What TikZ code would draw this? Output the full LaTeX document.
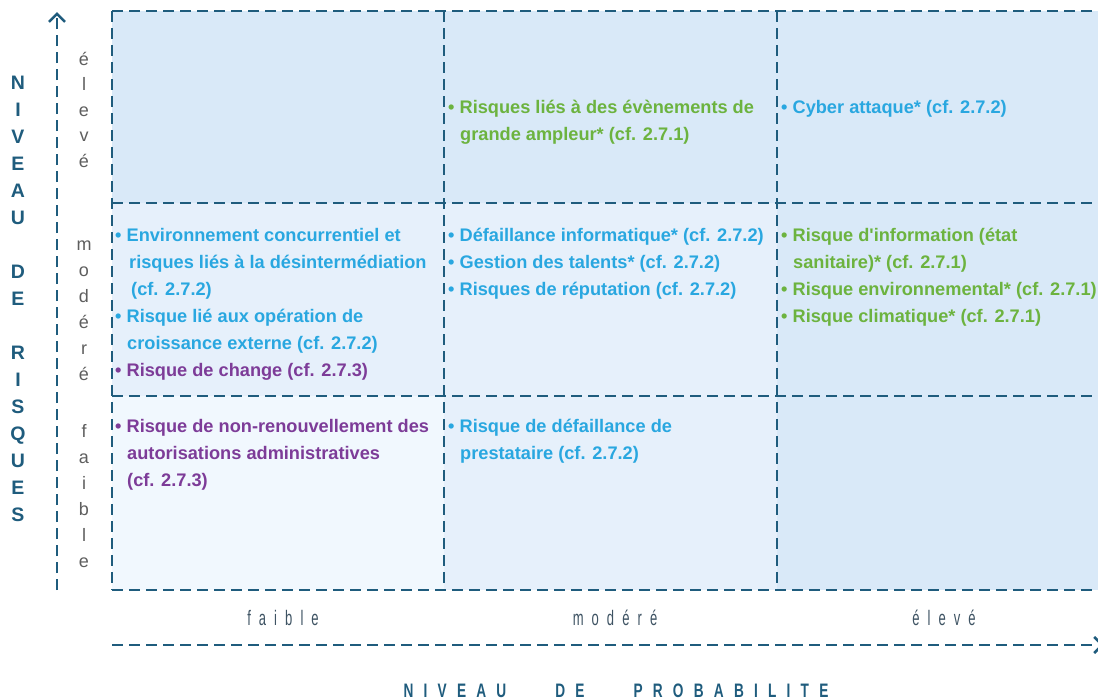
\documentclass[tikz,border=0pt]{standalone}
\usepackage{fontspec}
\setmainfont{Liberation Sans}
\usepackage{graphicx}
\usetikzlibrary{arrows.meta}

\definecolor{linecol}{HTML}{1F5C7D}
\definecolor{cellhigh}{HTML}{D9E9F8}
\definecolor{cellmid}{HTML}{E6F0FB}
\definecolor{celllow}{HTML}{F1F8FE}
\definecolor{riskblue}{HTML}{29A7E0}
\definecolor{riskgreen}{HTML}{6CB33F}
\definecolor{riskpurple}{HTML}{7D3C98}
\definecolor{levelgray}{HTML}{5E5E5E}
\definecolor{labelgray}{HTML}{3E5363}

% continuation line inside a bullet item
\newcommand{\subline}{\hspace*{12pt}}
\newcommand{\widelabel}[1]{\scalebox{0.62}[1]{\addfontfeature{LetterSpace=62}#1}}

\tikzset{
  griddash/.style={draw=linecol, line width=2.6pt, dash pattern=on 11pt off 6pt},
  cell/.style={anchor=north west, align=left, inner sep=0pt,
    font=\fontsize{18.2}{27}\selectfont\bfseries},
  riskletter/.style={anchor=base, inner sep=0pt, text=linecol,
    font=\fontsize{19.5}{19.5}\selectfont\bfseries},
  levelletter/.style={anchor=base, inner sep=0pt, text=levelgray,
    font=\fontsize{18}{18}\selectfont},
  problabel/.style={anchor=base, inner sep=0pt, text=labelgray,
    font=\fontsize{21}{21}\selectfont},
  probtitle/.style={anchor=base, inner sep=0pt, text=linecol,
    font=\fontsize{19.5}{19.5}\selectfont\bfseries},
}

\begin{document}
\begin{tikzpicture}[x=1pt, y=-1pt, >=Latex]
  \clip (0,0) rectangle (1098,699);

  % cells
  \fill[cellhigh] (112,11) rectangle (1110,203);
  \fill[cellmid] (112,203) rectangle (777,396);
  \fill[cellhigh] (777,203) rectangle (1110,590);
  \fill[celllow] (112,396) rectangle (444,590);
  \fill[cellmid] (444,396) rectangle (777,590);
  \foreach \x in {112,444,777} {
    \draw[griddash] (\x,11) -- (\x,590);
  }
  \foreach \y in {11,203,396,590} {
    \draw[griddash] (112,\y) -- (1110,\y);
  }

  % axes
  \draw[griddash, -{Straight Barb[length=8pt,width=16pt]}] (57,590) -- (57,12);
  \draw[griddash, -{Straight Barb[length=8pt,width=16pt]}] (112,645) -- (1104,645);

  % risk levels
  \foreach \ch/\k in {N/0,I/1,V/2,E/3,A/4,U/5,D/7,E/8,R/10,I/11,S/12,Q/13,U/14,E/15,S/16} {
    \node[riskletter] (axis\k) at (18,89+27*\k) {\ch};
  }
  \foreach \ch [count=\k from 0] in {é,l,e,v,é} {
    \node[levelletter] (high\k) at (84,65+25.5*\k) {\ch};
  }
  \foreach \ch [count=\k from 0] in {m,o,d,é,r,é} {
    \node[levelletter] (mid\k) at (84,250+26*\k) {\ch};
  }
  \foreach \ch [count=\k from 0] in {f,a,i,b,l,e} {
    \node[levelletter] (low\k) at (84,437+26*\k) {\ch};
  }

  % probability levels
  \node[problabel] (plow) at (283,625) {\widelabel{faible}};
  \node[problabel] (pmid) at (615,625) {\widelabel{modéré}};
  \node[problabel] (phigh) at (944,625) {\widelabel{élevé}};
  \node[probtitle] (ptitle) at (616,697)
    {\scalebox{0.7}[1]{\addfontfeature{LetterSpace=75}NIVEAU\hspace{70pt}DE\hspace{70pt}PROBABILITE}};

  % risks
  \node[cell, text=riskgreen] (tmid) at (448,100)
    {• Risques liés à des évènements de\\\subline grande ampleur* (cf. 2.7.1)};
  \node[cell, text=riskblue] (thigh) at (781,100)
    {• Cyber attaque* (cf. 2.7.2)};
  \node[cell, text=riskblue] (mlow) at (115,228)
    {• Environnement concurrentiel et\\
     \subline\hspace*{2pt}risques liés à la désintermédiation\\
     \subline\hspace*{4pt}(cf. 2.7.2)\\
     • Risque lié aux opération de\\
     \subline croissance externe (cf. 2.7.2)\\
     {\color{riskpurple}• Risque de change (cf. 2.7.3)}};
  \node[cell, text=riskblue] (mmid) at (448,228)
    {• Défaillance informatique* (cf. 2.7.2)\\
     • Gestion des talents* (cf. 2.7.2)\\
     • Risques de réputation (cf. 2.7.2)};
  \node[cell, text=riskgreen] (mhigh) at (781,228)
    {• Risque d\textquotesingle information (état\\
     \subline sanitaire)* (cf. 2.7.1)\\
     • Risque environnemental* (cf. 2.7.1)\\
     • Risque climatique* (cf. 2.7.1)};
  \node[cell, text=riskpurple] (llow) at (115,419)
    {• Risque de non-renouvellement des\\
     \subline autorisations administratives\\
     \subline (cf. 2.7.3)};
  \node[cell, text=riskblue] (lmid) at (448,419)
    {• Risque de défaillance de\\\subline prestataire (cf. 2.7.2)};
\end{tikzpicture}
\end{document}
